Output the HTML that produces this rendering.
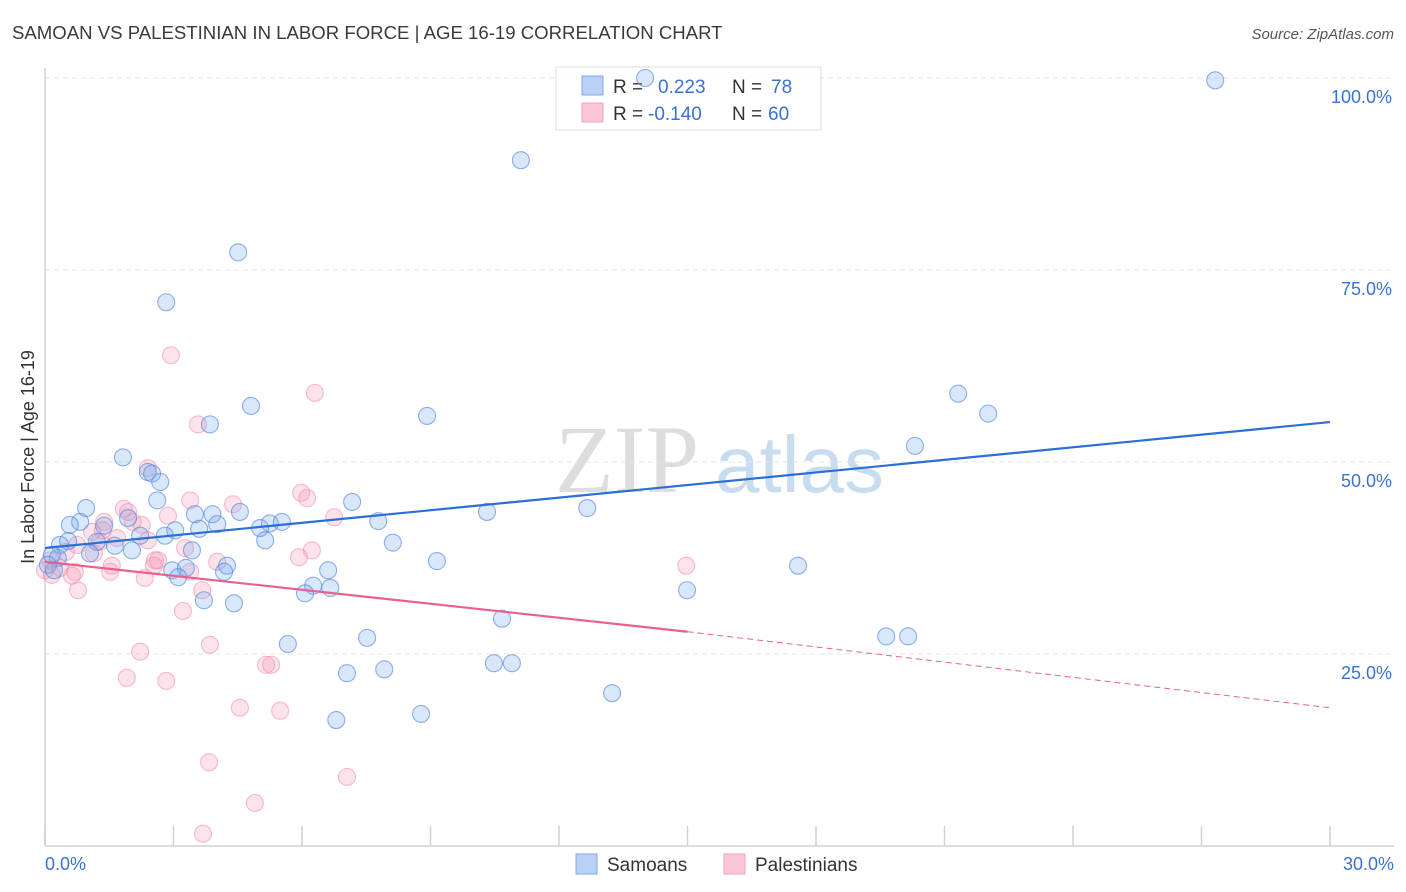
<!DOCTYPE html>
<html><head><meta charset="utf-8"><style>
body{margin:0;background:#fff;font-family:"Liberation Sans",sans-serif}
svg{display:block}
</style></head><body>
<svg id="chart" width="1406" height="892">
<text x="12" y="39" font-size="18.6" fill="#3a3a3a">SAMOAN VS PALESTINIAN IN LABOR FORCE | AGE 16-19 CORRELATION CHART</text>
<text x="1394" y="39" font-size="15" fill="#555" font-style="italic" text-anchor="end">Source: ZipAtlas.com</text>
<g><text x="555" y="492" font-size="96" font-family="Liberation Serif,serif" fill="#ddd">ZIP</text><text x="715" y="492" font-size="80" fill="#c8dcf0">atlas</text></g>
<g id="grid"></g>
<g id="axes"></g>
<g>
<rect x="556" y="67" width="265" height="63" fill="rgba(255,255,255,0.85)" stroke="#ddd"/>
<rect x="582" y="76" width="21" height="19" fill="#b8d1f5" stroke="#7ea8e8"/>
<rect x="582" y="103" width="21" height="19" fill="#fbc7d6" stroke="#f0a0b8"/>
<text x="613" y="93" font-size="19" fill="#333">R = </text><text x="658" y="93" font-size="19" fill="#3a72d0">0.223</text>
<text x="732" y="93" font-size="19" fill="#333">N = </text><text x="771" y="93" font-size="19" fill="#3a72d0">78</text>
<text x="613" y="120" font-size="19" fill="#333">R = </text><text x="648" y="120" font-size="19" fill="#3a72d0">-0.140</text>
<text x="732" y="120" font-size="19" fill="#333">N = </text><text x="768" y="120" font-size="19" fill="#3a72d0">60</text>
</g>
<g id="marks"></g>
<text transform="translate(34,457) rotate(-90)" font-size="18" fill="#333" text-anchor="middle">In Labor Force | Age 16-19</text>
<g>
<rect x="576" y="854" width="21" height="20" fill="#b8d1f5" stroke="#7ea8e8"/>
<text x="607" y="871" font-size="19" fill="#333">Samoans</text>
<rect x="724" y="854" width="21" height="20" fill="#fbc7d6" stroke="#f0a0b8"/>
<text x="755" y="871" font-size="19" fill="#333">Palestinians</text>
</g>
</svg>
<script>
const samoanX=[14.01,27.32,11.11,4.51,2.83,4.81,3.85,8.92,21.32,22.02,20.31,1.82,2.40,2.50,2.69,2.62,0.96,7.17,12.66,10.32,3.50,3.91,4.55,1.94,0.82,0.58,1.38,4.02,5.25,5.53,7.78,5.02,3.04,3.60,2.22,2.80,5.14,8.12,0.35,0.54,1.21,1.63,2.03,3.43,1.05,0.16,0.30,0.07,0.21,9.15,17.58,4.25,2.97,3.29,4.18,3.11,6.61,6.26,6.66,6.07,14.99,3.71,4.41,10.67,19.64,20.15,7.52,5.67,10.48,10.90,7.05,7.92,13.24,6.80,8.78];
const samoanY=[100,99.7,89.3,77.3,70.8,57.3,54.9,56.0,58.9,56.3,52.1,50.6,48.7,48.5,47.4,45.0,44.0,44.8,44.0,43.5,43.2,43.2,43.5,42.7,42.2,41.8,41.7,41.9,42.0,42.2,42.3,41.4,41.1,41.3,40.4,40.4,39.8,39.5,39.2,39.7,39.6,39.1,38.5,38.5,38.1,37.9,37.5,36.6,35.9,37.1,36.5,36.5,35.9,36.2,35.7,35.0,35.9,33.9,33.6,32.9,33.3,32.0,31.6,29.6,27.3,27.3,27.1,26.3,23.8,23.8,22.5,23.0,19.9,16.4,17.2];
const palX=[2.94,6.30,3.57,2.40,3.39,5.98,6.12,4.39,1.84,1.94,2.87,6.75,1.38,2.05,2.26,1.10,1.35,1.68,2.40,0.75,1.28,3.27,1.14,0.49,6.23,5.93,2.57,2.64,4.02,1.56,2.54,14.97,0.12,0.0,0.16,0.35,0.70,1.52,3.39,2.33,0.63,0.77,3.67,3.22,3.85,2.22,5.16,5.28,1.91,2.83,4.55,5.49,3.83,7.05,4.90,3.69];
const palY=[63.9,59.0,54.9,49.2,45.0,46.0,45.3,44.5,43.9,43.5,43.0,42.8,42.2,42.2,41.8,40.9,41.1,40.1,39.8,39.2,39.6,38.8,38.1,38.3,38.5,37.6,37.2,37.2,37.0,36.5,36.5,36.5,37.2,35.9,35.3,36.2,35.7,35.7,35.7,34.9,35.2,33.3,33.3,30.6,26.2,25.3,23.6,23.6,21.9,21.5,18.0,17.6,10.9,9.0,5.6,1.6];
const samoanTrend=[38.8,55.2];
const palTrend=[37.0,27.9,18.0];
const yTicks=[25,50,75,100];
const yTickLabels=["25.0%","50.0%","75.0%","100.0%"];
const NS="http://www.w3.org/2000/svg";
const sx=v=>45+v/30*1285, sy=v=>846-v/25*192;
function mk(t,a,p){const e=document.createElementNS(NS,t);for(const k in a)e.setAttribute(k,a[k]);p.appendChild(e);return e;}
const grid=document.getElementById('grid'),axes=document.getElementById('axes'),marks=document.getElementById('marks');
yTicks.forEach((v,i)=>{
 const l=mk('line',{x1:45,x2:1394,y1:sy(v),y2:sy(v),stroke:'#e4e4e4','stroke-dasharray':'5,4'},grid);
 
 
 const t=mk('text',{x:1392,y:sy(v)+25,'font-size':18,fill:'#3a72d0','text-anchor':'end'},axes);
 t.textContent=yTickLabels[i];
 
 
});
const ya=mk('line',{x1:45,x2:45,y1:68,y2:846,stroke:'#d0d0d0','stroke-width':1.5},axes);


const xa=mk('line',{x1:45,x2:1394,y1:846,y2:846,stroke:'#d0d0d0','stroke-width':1.5},axes);


for(let k=0;k<=10;k++){const v=k*3;const t=mk('line',{x1:sx(v),x2:sx(v),y1:826,y2:846,stroke:'#d0d0d0','stroke-width':1.5},axes);
 
 }
const x0=mk('text',{x:45,y:870,'font-size':18,fill:'#3a72d0'},axes);x0.textContent='0.0%';


const x1=mk('text',{x:1394,y:870,'font-size':18,fill:'#3a72d0','text-anchor':'end'},axes);x1.textContent='30.0%';


palX.forEach((v,i)=>{const c=mk('circle',{cx:sx(v),cy:sy(palY[i]),r:8.5,fill:'rgba(245,150,178,0.28)',stroke:'rgba(240,145,175,0.6)','stroke-width':1.1},marks);
 
 });
samoanX.forEach((v,i)=>{const c=mk('circle',{cx:sx(v),cy:sy(samoanY[i]),r:8.5,fill:'rgba(120,168,238,0.28)',stroke:'rgba(85,135,220,0.65)','stroke-width':1.1},marks);
 
 });
const bt=mk('line',{x1:sx(0),y1:sy(samoanTrend[0]),x2:sx(30),y2:sy(samoanTrend[1]),stroke:'#2a6fd6','stroke-width':2.2},marks);


const pt=mk('line',{x1:sx(0),y1:sy(palTrend[0]),x2:sx(15),y2:sy(palTrend[1]),stroke:'#e8608d','stroke-width':2.2},marks);


const pd=mk('line',{x1:sx(15),y1:sy(palTrend[1]),x2:sx(30),y2:sy(palTrend[2]),stroke:'#e8608d','stroke-width':1,'stroke-dasharray':'6,4'},marks);


</script>
</body></html>
